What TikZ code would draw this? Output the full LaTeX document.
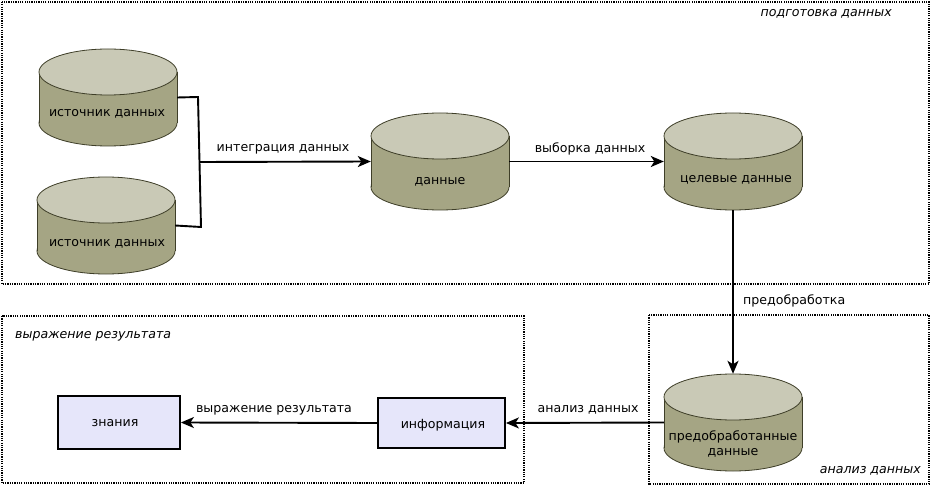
\documentclass[tikz,border=0pt]{standalone}
\usepackage{fontspec}
\setmainfont{DejaVu Sans}
\usetikzlibrary{arrows.meta}
\definecolor{cyltop}{RGB}{201,201,182}
\definecolor{cylbody}{RGB}{165,165,132}
\definecolor{cylline}{RGB}{62,62,40}
\definecolor{boxfill}{RGB}{230,230,250}
\newcommand\mycyl[4]{% name, cx, ytop, text
  \fill[cylbody,draw=cylline,line width=0.8pt] (#2,#3+74) ellipse [x radius=69pt, y radius=23pt];
  \fill[cylbody] (#2-69,#3+23) rectangle (#2+69,#3+74);
  \draw[cylline,line width=0.8pt] (#2-69,#3+23) -- (#2-69,#3+74) (#2+69,#3+23) -- (#2+69,#3+74);
  \fill[cyltop,draw=cylline,line width=0.8pt] (#2,#3+23) ellipse [x radius=69pt, y radius=23pt];
  \node[minimum width=138pt,minimum height=97pt,inner sep=0pt] (#1) at (#2,#3+48.5) {};
}
\tikzset{
  lbl/.style={font=\fontsize{12.6}{14.5}\selectfont,inner sep=0pt},
  grp/.style={draw,line width=1.3pt,dash pattern=on 1.2pt off 1.1pt},
  grplbl/.style={font=\fontsize{12.6}{14.5}\selectfont\itshape,inner sep=0pt},
  infobox/.style={draw,fill=boxfill,line width=1.8pt,inner sep=0pt},
  conn/.style={line width=1.9pt},
  arr/.style={line width=1.9pt,-{Stealth[length=13pt,width=11pt,inset=3.5pt]}},
}
\begin{document}
\begin{tikzpicture}[x=1pt,y=-1pt]
\useasboundingbox (0,0) rectangle (931,486);
% group boxes
\draw[grp] (2,2) rectangle (929,284);
\draw[grp] (2,316) rectangle (524,483);
\draw[grp] (649,315) rectangle (929,484);
\node[grplbl,anchor=east] (g1) at (892,13.5) {подготовка данных};
\node[grplbl,anchor=west] (g2) at (15,336) {выражение результата};
\node[grplbl,anchor=east] (g3) at (921,471) {анализ данных};
% cylinders
\mycyl{src1}{108}{49}{}
\node[lbl] (t1) at (107,114) {источник данных};
\mycyl{src2}{106}{177}{}
\node[lbl] (t2) at (107,244) {источник данных};
\mycyl{dat}{440}{113}{}
\node[lbl] (t3) at (440,182) {данные};
\mycyl{tgt}{733}{113}{}
\node[lbl] (t4) at (736,180) {целевые данные};
\mycyl{pre}{733}{374}{}
\node[lbl,align=center] (t5) at (733,444) {предобработанные\\данные};
% boxes
\node[infobox,minimum width=122pt,minimum height=53pt] (kn) at (119,422.5) {};
\node[lbl] (t6) at (115,423) {знания};
\node[infobox,minimum width=127pt,minimum height=50pt] (inf) at (441.5,423) {};
\node[lbl] (t7) at (443,425) {информация};
% connectors
\coordinate (j1) at (198,97);
\coordinate (j2) at (201,227);
\coordinate (jm) at (199.5,162);
\draw[conn] (src1.east) -- (j1) -- (j2) -- (src2.east);
\draw[arr] (jm) -- (dat.west);
\draw[arr] (dat.east) -- (tgt.west);
\draw[arr] (tgt.south) -- (pre.north);
\draw[arr] (pre.west) -- (inf.east);
\draw[arr] (inf.west) -- (kn.east);
% connector labels
\node[lbl] (l1) at (283,149) {интеграция данных};
\node[lbl] (l2) at (590,149) {выборка данных};
\node[lbl,anchor=west] (l3) at (743,301) {предобработка};
\node[lbl] (l4) at (588,410) {анализ данных};
\node[lbl] (l5) at (274,410) {выражение результата};
\end{tikzpicture}
\end{document}
